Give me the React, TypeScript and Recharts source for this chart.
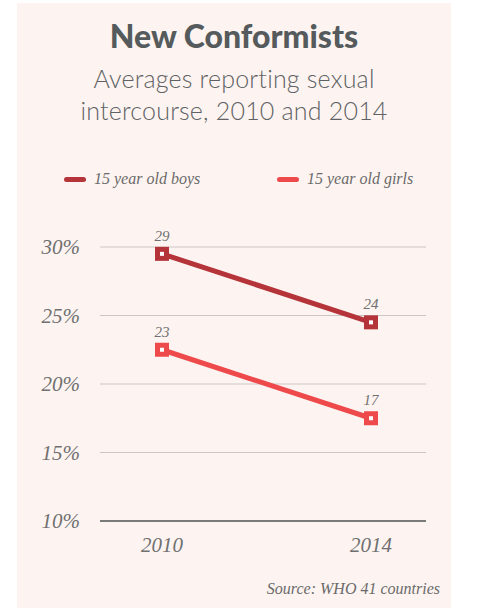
import React from 'react'
import { LineChart, Line, XAxis, YAxis, CartesianGrid, LabelList } from 'recharts'

const years = ['2010', '2014']
const boysValues = [29.5, 24.5]
const girlsValues = [22.5, 17.5]
const boysLabels = ['29', '24']
const girlsLabels = ['23', '17']
const yTicks = [10, 15, 20, 25, 30]

const BOYS = '#b5343a'
const GIRLS = '#ee4a4c'
const SERIF = '"Liberation Serif", serif'
const SANS = 'Lato, "Open Sans", sans-serif'

const data = years.map((year, i) => ({
  year,
  boys: boysValues[i],
  girls: girlsValues[i],
  boysLabel: boysLabels[i],
  girlsLabel: girlsLabels[i],
}))

function squareDot(color: string) {
  return (props: any) => {
    const { cx, cy, index } = props
    if (cx == null || cy == null) return null
    return (
      <g key={`dot-${color}-${index}`}>
        <rect x={cx - 7} y={cy - 7} width={14} height={14} fill={color} />
        <rect x={cx - 2} y={cy - 2} width={4} height={4} fill="#fff" />
      </g>
    )
  }
}

function LegendItem({ color, label, left }: { color: string; label: string; left: number }) {
  return (
    <div style={{ position: 'absolute', left, top: 170, display: 'flex', alignItems: 'center' }}>
      <div style={{ width: 22, height: 5, borderRadius: 3, background: color, marginRight: 8 }} />
      <span style={{ fontFamily: SERIF, fontStyle: 'italic', fontSize: 16, color: '#6a6a6a' }}>
        {label}
      </span>
    </div>
  )
}

export default function App() {
  return (
    <div style={{ position: 'relative', width: 477, height: 608, background: '#fff', overflow: 'hidden' }}>
      <style>{`body{margin:0}`}</style>
      <div
        style={{ position: 'absolute', left: 17, top: 3, width: 434, height: 605, background: '#fdf4f1' }}
      />
      <LineChart
        width={477}
        height={608}
        data={data}
        margin={{ top: 247, right: 51, bottom: 47, left: 0 }}
        style={{ position: 'absolute', left: 0, top: 0 }}
      >
        <CartesianGrid vertical={false} stroke="#cbc6c4" strokeWidth={1} />
        <XAxis
          dataKey="year"
          height={40}
          padding={{ left: 62, right: 55 }}
          axisLine={{ stroke: '#7a7a7a', strokeWidth: 2 }}
          tickLine={false}
          tickSize={0}
          tickMargin={16}
          tick={{ fontFamily: SERIF, fontStyle: 'italic', fontSize: 21, fill: '#707070' }}
        />
        <YAxis
          domain={[10, 30]}
          ticks={yTicks}
          width={100}
          axisLine={false}
          tickLine={false}
          tickSize={0}
          tickMargin={20}
          tickFormatter={(v) => `${v}%`}
          tick={{ fontFamily: SERIF, fontStyle: 'italic', fontSize: 21, fill: '#707070' }}
        />
        <Line
          dataKey="boys"
          stroke={BOYS}
          strokeWidth={5}
          dot={squareDot(BOYS)}
          activeDot={false}
          isAnimationActive={false}
        >
          <LabelList
            dataKey="boysLabel"
            position="top"
            offset={13}
            style={{ fontFamily: SERIF, fontStyle: 'italic', fontSize: 15, fill: '#707070' }}
          />
        </Line>
        <Line
          dataKey="girls"
          stroke={GIRLS}
          strokeWidth={5}
          dot={squareDot(GIRLS)}
          activeDot={false}
          isAnimationActive={false}
        >
          <LabelList
            dataKey="girlsLabel"
            position="top"
            offset={13}
            style={{ fontFamily: SERIF, fontStyle: 'italic', fontSize: 15, fill: '#707070' }}
          />
        </Line>
      </LineChart>
      <div
        style={{
          position: 'absolute',
          left: 17,
          width: 434,
          top: 16,
          textAlign: 'center',
          fontFamily: SANS,
          fontWeight: 900,
          fontSize: 32,
          color: '#555a5c',
        }}
      >
        New Conformists
      </div>
      <div
        style={{
          position: 'absolute',
          left: 17,
          width: 434,
          top: 62,
          textAlign: 'center',
          fontFamily: SANS,
          fontWeight: 300,
          fontSize: 25,
          letterSpacing: 0.2,
          lineHeight: '32px',
          color: '#5f6264',
        }}
      >
        Averages reporting sexual
        <br />
        intercourse, 2010 and 2014
      </div>
      <LegendItem color={BOYS} label="15 year old boys" left={64} />
      <LegendItem color={GIRLS} label="15 year old girls" left={277} />
      <div
        style={{
          position: 'absolute',
          right: 37,
          top: 580,
          fontFamily: SERIF,
          fontStyle: 'italic',
          fontSize: 16,
          color: '#6a6a6a',
        }}
      >
        Source: WHO 41 countries
      </div>
    </div>
  )
}
